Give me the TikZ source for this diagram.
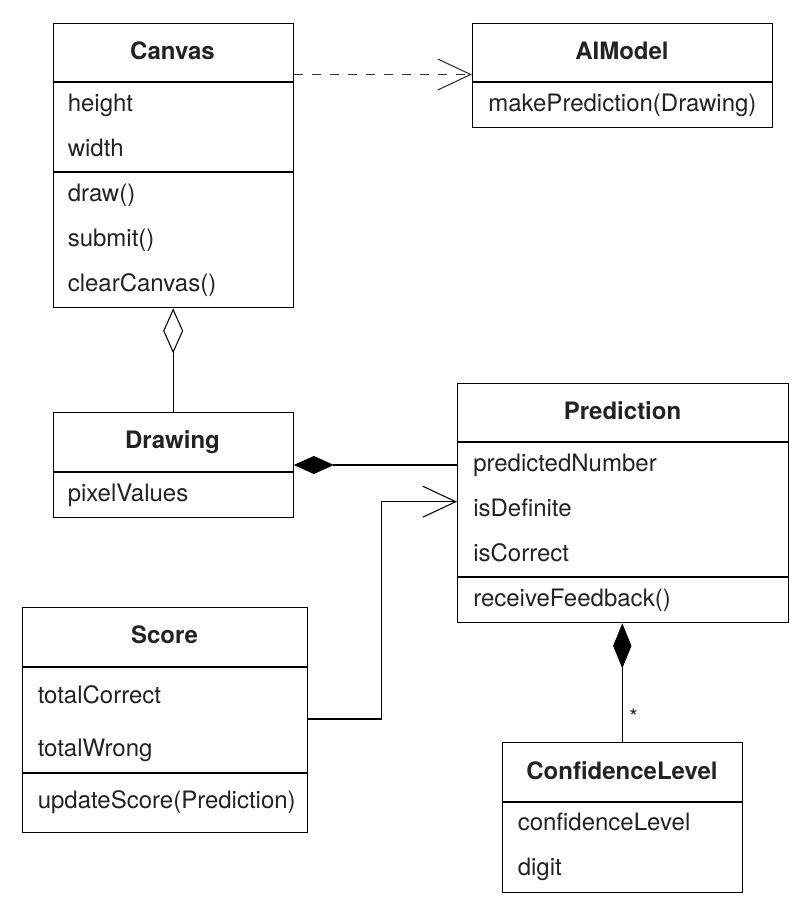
\documentclass[tikz,border=0pt]{standalone}
\usepackage{fontspec}
\setmainfont{TeX Gyre Heros}
\usepackage{xcolor}
\usetikzlibrary{arrows.meta}

\definecolor{inkgray}{RGB}{34,34,34}
\definecolor{dashgray}{RGB}{50,50,50}

\tikzset{
  classbox/.style={draw, line width=1pt, inner sep=0pt, anchor=north west},
  classname/.style={anchor=base, inner sep=0pt, text=inkgray, font=\fontsize{18}{21}\selectfont\bfseries},
  member/.style={anchor=base west, inner sep=0pt, text=inkgray, font=\fontsize{18}{21}\selectfont},
  link/.style={line width=0.8pt},
  openhead/.style={-{Straight Barb[length=24.75pt, width=23.25pt, line width=0.8pt]}}
}

\begin{document}
\begin{tikzpicture}[x=0.75pt,y=0.75pt,yscale=-1,xscale=1]
\useasboundingbox (0,0) rectangle (810,915);

%Shape: Rectangle [id:canvas]
\node [classbox, minimum width=180pt, minimum height=213.4pt] (canvas) at (52.5,22.5) {};
\draw [line width=1pt] (canvas.west |- 0,82) -- (canvas.east |- 0,82) ;
\draw [line width=1pt] (canvas.west |- 0,172) -- (canvas.east |- 0,172) ;
% Text Node
\node [classname] (canvastitle) at (172.5,59.3) {Canvas};
\node [member] (canvasheight) at (67.5,111) {height};
\node [member] (canvaswidth) at (67.5,156) {width};
\node [member] (canvasdraw) at (67.5,201) {draw()};
\node [member] (canvassubmit) at (67.5,246) {submit()};
\node [member] (canvasclear) at (67.5,291) {clearCanvas()};

%Shape: Rectangle [id:aimodel]
\node [classbox, minimum width=225pt, minimum height=78.4pt] (aimodel) at (472,22.5) {};
\draw [line width=1pt] (aimodel.west |- 0,82) -- (aimodel.east |- 0,82) ;
% Text Node
\node [classname] (aimodeltitle) at (622,59.3) {AIModel};
\node [member] (aimodelpredict) at (488,111) {makePrediction(Drawing)};

%Shape: Rectangle [id:drawing]
\node [classbox, minimum width=180pt, minimum height=78.75pt] (drawing) at (52.5,412) {};
\draw [line width=1pt] (drawing.west |- 0,472) -- (drawing.east |- 0,472) ;
% Text Node
\node [classname] (drawingtitle) at (172.5,448.3) {Drawing};
\node [member] (drawingpixels) at (67.5,501) {pixelValues};

%Shape: Rectangle [id:prediction]
\node [classbox, minimum width=248.25pt, minimum height=179.25pt] (prediction) at (457,383) {};
\draw [line width=1pt] (prediction.west |- 0,442) -- (prediction.east |- 0,442) ;
\draw [line width=1pt] (prediction.west |- 0,577) -- (prediction.east |- 0,577) ;
% Text Node
\node [classname] (predictiontitle) at (622.5,419) {Prediction};
\node [member] (predictionnumber) at (473,471.5) {predictedNumber};
\node [member] (predictiondefinite) at (473,516.5) {isDefinite};
\node [member] (predictioncorrect) at (473,561.5) {isCorrect};
\node [member] (predictionfeedback) at (473,606) {receiveFeedback()};

%Shape: Rectangle [id:score]
\node [classbox, minimum width=213.75pt, minimum height=168.75pt] (score) at (22,607) {};
\draw [line width=1pt] (score.west |- 0,667) -- (score.east |- 0,667) ;
\draw [line width=1pt] (score.west |- 0,773) -- (score.east |- 0,773) ;
% Text Node
\node [classname] (scoretitle) at (164.5,643.3) {Score};
\node [member] (scorecorrect) at (37.5,703.3) {totalCorrect};
\node [member] (scorewrong) at (37.5,756) {totalWrong};
\node [member] (scoreupdate) at (37.5,808.3) {updateScore(Prediction)};

%Shape: Rectangle [id:confidence]
\node [classbox, minimum width=180pt, minimum height=112.5pt] (confidence) at (502,742) {};
\draw [line width=1pt] (confidence.west |- 0,802) -- (confidence.east |- 0,802) ;
% Text Node
\node [classname] (confidencetitle) at (622,779) {ConfidenceLevel};
\node [member] (confidencelevel) at (517.5,830.7) {confidenceLevel};
\node [member] (confidencedigit) at (517.5,875.7) {digit};

%Straight Lines [id:dependency]
\draw [line width=1.1pt, color=dashgray, dash pattern={on 6.75pt off 6.75pt}, openhead] (canvas.east |- 0,74.5) -- (aimodel.west |- 0,74.5) ;
%Straight Lines [id:aggregation]
\draw [link, {Diamond[open, length=33.75pt, width=15pt, line width=0.8pt]}-] (canvas.south) -- (drawing.north) ;
%Straight Lines [id:composition]
\draw [link, {Diamond[length=30pt, width=13.5pt]}-] (drawing.east |- 0,465) -- (prediction.west |- 0,465) ;
%Straight Lines [id:association]
\coordinate (bend) at (381.7,501.7) ;
\draw [link, openhead] (score.east |- 0,719) -| (bend) -- (prediction.west |- bend) ;
%Straight Lines [id:composition2]
\draw [link, {Diamond[length=33.75pt, width=13.75pt]}-] (prediction.south -| 622.3,0) -- (confidence.north -| 622.3,0) ;
% Text Node
\node [anchor=center, inner sep=0pt, text=inkgray, font=\fontsize{16}{18}\selectfont] (many) at (633.5,717) {*};
\end{tikzpicture}
\end{document}
